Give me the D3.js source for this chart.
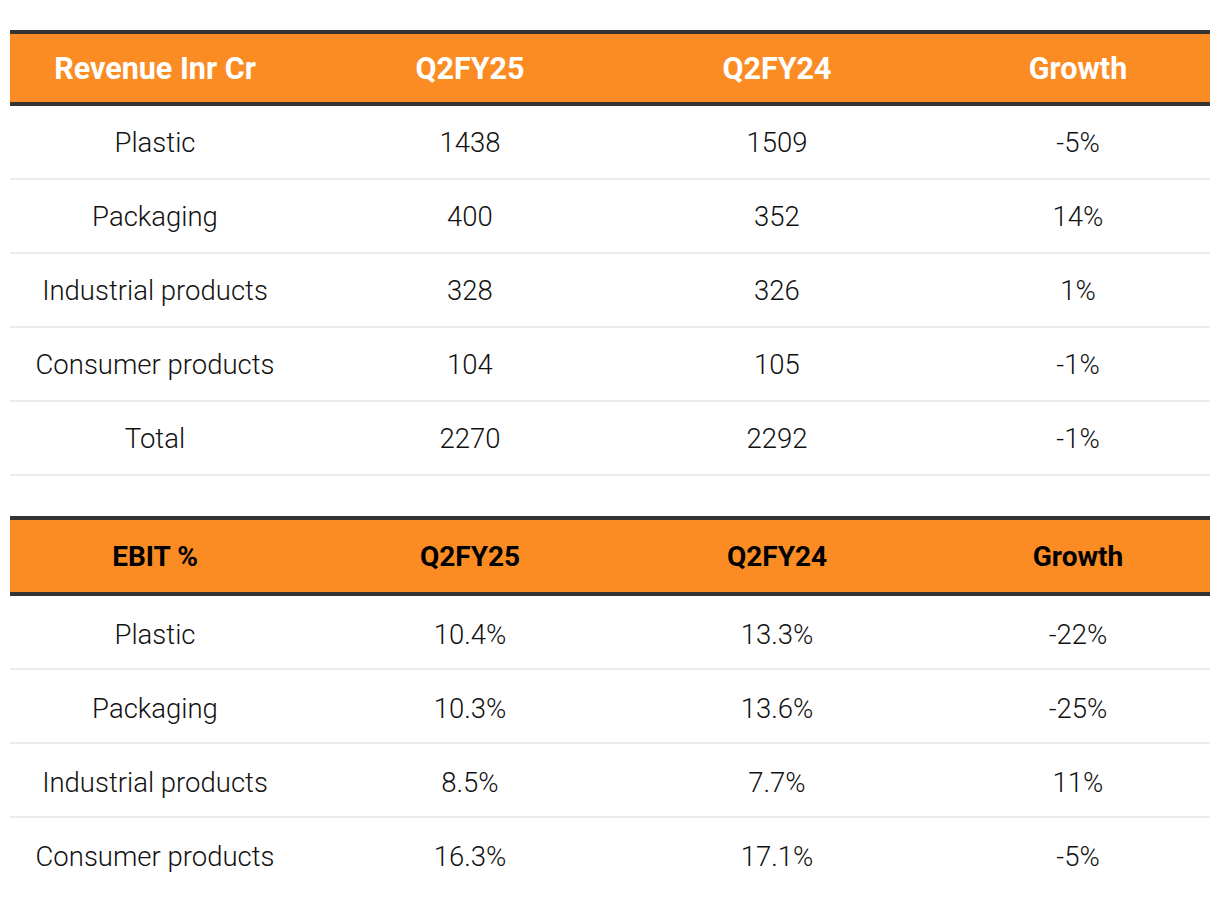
<!DOCTYPE html>
<html>
<head>
<meta charset="utf-8">
<script src="https://cdn.jsdelivr.net/npm/d3@7"></script>
<style>
  html, body { margin: 0; padding: 0; background: #fff; }
  svg { display: block; }
</style>
</head>
<body>
<svg id="chart" width="1220" height="902"></svg>
<script>
// ---- Data ----
const columns = ["col0", "Q2FY25", "Q2FY24", "Growth"];
const revHeaders = ["Revenue Inr Cr", "Q2FY25", "Q2FY24", "Growth"];
const revCategories = ["Plastic", "Packaging", "Industrial products", "Consumer products", "Total"];
const revQ2FY25 = [1438, 400, 328, 104, 2270];
const revQ2FY24 = [1509, 352, 326, 105, 2292];
const revGrowth = ["-5%", "14%", "1%", "-1%", "-1%"];

const ebitHeaders = ["EBIT %", "Q2FY25", "Q2FY24", "Growth"];
const ebitCategories = ["Plastic", "Packaging", "Industrial products", "Consumer products"];
const ebitQ2FY25 = ["10.4%", "10.3%", "8.5%", "16.3%"];
const ebitQ2FY24 = ["13.3%", "13.6%", "7.7%", "17.1%"];
const ebitGrowth = ["-22%", "-25%", "11%", "-5%"];

// ---- Layout ----
const svg = d3.select("#chart");
const left = 10, right = 1210;
const colX = d3.scaleOrdinal().domain(columns).range([155, 470, 777, 1078]);
const orange = "#FB8C23";
const dark = "#333333";
const light = "#EBEBEB";
const FONT = "Roboto, 'Noto Sans', sans-serif";

function drawTable(cfg) {
  const g = svg.append("g");
  const { top, headerH, headers, headerColor, headerSize, rows, rowH, lastLine, textShift } = cfg;
  g.append("rect").attr("x", left).attr("y", top).attr("width", right - left).attr("height", 4).attr("fill", dark);
  g.append("rect").attr("x", left).attr("y", top + 4).attr("width", right - left).attr("height", headerH).attr("fill", orange);
  g.append("rect").attr("x", left).attr("y", top + 4 + headerH).attr("width", right - left).attr("height", 4).attr("fill", dark);

  g.selectAll("text.h").data(headers).join("text")
    .attr("class", "h")
    .attr("x", (d, i) => colX(columns[i]))
    .attr("y", top + 4 + headerH / 2)
    .attr("dy", "0.36em")
    .attr("text-anchor", "middle")
    .attr("font-family", FONT)
    .attr("font-weight", 700)
    .attr("font-size", headerSize)
    .attr("fill", headerColor)
    .text(d => d);

  const bodyTop = top + 8 + headerH;
  const y = d3.scaleBand().domain(d3.range(rows.length)).range([bodyTop, bodyTop + rowH * rows.length]).padding(0);

  const rowG = g.selectAll("g.row").data(rows).join("g").attr("class", "row")
    .attr("transform", (d, i) => `translate(0,${y(i)})`);

  rowG.filter((d, i) => lastLine || i < rows.length - 1)
    .append("rect")
    .attr("x", left).attr("y", y.bandwidth() - 2)
    .attr("width", right - left).attr("height", 2)
    .attr("fill", light);

  rowG.selectAll("text").data(d => d).join("text")
    .attr("x", (d, i) => colX(columns[i]))
    .attr("y", y.bandwidth() / 2 + textShift)
    .attr("dy", "0.36em")
    .attr("text-anchor", "middle")
    .attr("font-family", FONT)
    .attr("font-weight", 300)
    .attr("font-size", 27.5)
    .attr("fill", "#111")
    .text(d => d);
}

const revRows = revCategories.map((c, i) => [c, revQ2FY25[i], revQ2FY24[i], revGrowth[i]]);
const ebitRows = ebitCategories.map((c, i) => [c, ebitQ2FY25[i], ebitQ2FY24[i], ebitGrowth[i]]);

drawTable({ top: 30, headerH: 68, headers: revHeaders, headerColor: "#ffffff", headerSize: 30.5, rows: revRows, rowH: 74, lastLine: true, textShift: -1 });
drawTable({ top: 516, headerH: 72, headers: ebitHeaders, headerColor: "#000000", headerSize: 28, rows: ebitRows, rowH: 74, lastLine: false, textShift: 1 });
</script>
</body>
</html>
